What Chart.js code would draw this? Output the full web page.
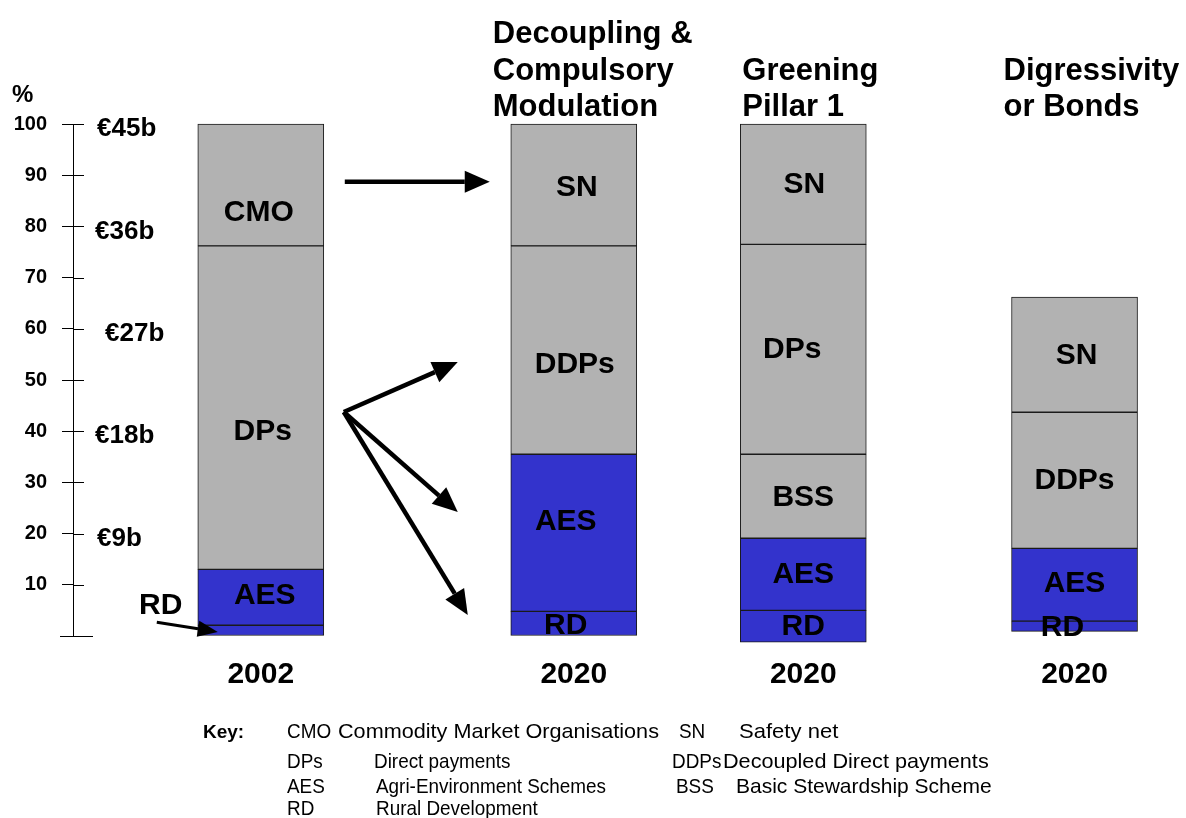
<!DOCTYPE html>
<html>
<head>
<meta charset="utf-8">
<script src="https://cdn.jsdelivr.net/npm/chart.js@4.4.1/dist/chart.umd.min.js"></script>
<style>
  html, body { margin: 0; padding: 0; background: #fff; }
</style>
</head>
<body>
<canvas id="capChart" width="1186" height="818"></canvas>
<script>
// ---- data ----
const years = ['2002', '2020', '2020', '2020'];
const columnTitles = [[], ['Decoupling &', 'Compulsory', 'Modulation'], ['Greening', 'Pillar 1'], ['Digressivity', 'or Bonds']];

// segment boundaries in %, bottom to top
const bounds2002 = [0, 2.1, 13, 76.2, 100];
const boundsDecoupling = [0, 4.8, 35.5, 76.2, 100];
const boundsGreening = [-1.2, 5, 19.1, 35.5, 76.5, 100];
const boundsDigressivity = [0.9, 2.9, 17.1, 43.7, 66.2];

const names2002 = ['', 'AES', 'DPs', 'CMO'];
const namesDecoupling = ['RD', 'AES', 'DDPs', 'SN'];
const namesGreening = ['RD', 'AES', 'BSS', 'DPs', 'SN'];
const namesDigressivity = ['RD', 'AES', 'DDPs', 'SN'];

const euroAt = [100, 80, 60, 40, 20];
const euroLabels = ['€45b', '€36b', '€27b', '€18b', '€9b'];

const keyCodes = ['CMO', 'DPs', 'AES', 'RD', 'SN', 'DDPs', 'BSS'];
const keyNames = ['Commodity Market Organisations', 'Direct payments', 'Agri-Environment Schemes',
  'Rural Development', 'Safety net', 'Decoupled Direct payments', 'Basic Stewardship Scheme'];

// ---- layout ----
const slotCount = 53;
const slotOf = [9, 24, 35, 48];   // uneven column spacing
const barWidth = 126;
const blue = '#3333cc';
const grey = '#b2b2b2';
const font = '"Liberation Sans", Arial, sans-serif';

// where each segment name sits (in % units) and a small horizontal nudge
const labelAt = [[null, 7.8, 39.8, 82.6], [2.1, 22.3, 52.9, 87.5], [1.8, 11.9, 27.1, 55.9, 88.1], [1.6, 10.2, 30.3, 54.7]];
const labelDx = [[0, 4, 2, -2], [-8, -8, 1, 3], [0, 0, 0, -11, 1], [-12, 0, 0, 2]];
const titleDx = [0, -18, 2, -8];
const euroX = [97, 95, 105, 95, 97];
const keyCodeX = [287, 287, 287, 287, 679, 672, 676];
const keyNameX = [338, 374, 376, 376, 739, 723, 736];
const keyRowY = [738, 768, 793, 815, 738, 768, 793];
const keyScale = [1.03, 0.9, 0.9, 0.9, 1.05, 1.03, 1.0];

const allBounds = [bounds2002, boundsDecoupling, boundsGreening, boundsDigressivity];
const allNames = [names2002, namesDecoupling, namesGreening, namesDigressivity];

const slotLabels = Array(slotCount).fill('');
slotOf.forEach((s, i) => { slotLabels[s] = years[i]; });

const layerCount = Math.max(...allBounds.map(b => b.length - 1));
const datasets = [];
for (let j = 0; j < layerCount; j++) {
    const data = Array(slotCount).fill(null);
    allBounds.forEach((b, i) => {
        if (j < b.length - 1) data[slotOf[i]] = [b[j], b[j + 1]];
    });
    datasets.push({
        data: data,
        backgroundColor: j < 2 ? blue : grey,
        borderColor: '#1a1a1a',
        borderWidth: 1,
        borderSkipped: false,
        barThickness: barWidth,
        clip: false
    });
}

function arrow(ctx, x1, y1, x2, y2, lw, headLen, headHalf) {
    const a = Math.atan2(y2 - y1, x2 - x1);
    const bx = x2 - headLen * Math.cos(a), by = y2 - headLen * Math.sin(a);
    ctx.lineWidth = lw;
    ctx.beginPath();
    ctx.moveTo(x1, y1);
    ctx.lineTo(bx, by);
    ctx.stroke();
    ctx.beginPath();
    ctx.moveTo(x2, y2);
    ctx.lineTo(bx + headHalf * Math.sin(a), by - headHalf * Math.cos(a));
    ctx.lineTo(bx - headHalf * Math.sin(a), by + headHalf * Math.cos(a));
    ctx.closePath();
    ctx.fill();
}

// text squeezed horizontally (the key uses a condensed face)
function squeezed(ctx, text, x, y, sx) {
    ctx.save();
    ctx.translate(x, y);
    ctx.scale(sx, 1);
    ctx.fillText(text, 0, 0);
    ctx.restore();
}

const overlay = {
    id: 'overlay',
    afterDraw(chart) {
        const { ctx, scales: { x, y } } = chart;
        const axisX = chart.chartArea.left;
        ctx.save();
        ctx.fillStyle = '#000';
        ctx.strokeStyle = '#000';

        // tick stubs right of the axis, long tick at 0
        ctx.lineWidth = 1;
        for (let v = 10; v <= 100; v += 10) {
            const py = Math.round(y.getPixelForValue(v)) + 0.5;
            ctx.beginPath(); ctx.moveTo(axisX, py); ctx.lineTo(axisX + 11, py); ctx.stroke();
        }
        const p0 = Math.round(y.getPixelForValue(0)) + 0.5;
        ctx.beginPath(); ctx.moveTo(axisX - 13, p0); ctx.lineTo(axisX + 20, p0); ctx.stroke();

        // % and euro labels
        ctx.textBaseline = 'middle';
        ctx.textAlign = 'left';
        ctx.font = 'bold 24px ' + font;
        ctx.fillText('%', 12, 95);
        ctx.font = 'bold 26px ' + font;
        euroAt.forEach((v, i) => ctx.fillText(euroLabels[i], euroX[i], y.getPixelForValue(v) + 5));

        // segment names
        ctx.textAlign = 'center';
        ctx.font = 'bold 30px ' + font;
        allNames.forEach((names, i) => {
            const cx = x.getPixelForValue(slotOf[i]);
            names.forEach((n, j) => {
                if (!n) return;
                ctx.fillText(n, cx + labelDx[i][j], y.getPixelForValue(labelAt[i][j]));
            });
        });

        // column titles
        ctx.textAlign = 'left';
        ctx.textBaseline = 'alphabetic';
        ctx.font = 'bold 31px ' + font;
        columnTitles.forEach((lines, i) => {
            const left = x.getPixelForValue(slotOf[i]) - barWidth / 2 + titleDx[i];
            const n = lines.length;
            lines.forEach((t, k) => ctx.fillText(t, left, 116 - (n - 1 - k) * 36.5));
        });

        // arrows
        const bar1L = x.getPixelForValue(slotOf[0]) - barWidth / 2;
        const bar1R = bar1L + barWidth;
        const bar2L = x.getPixelForValue(slotOf[1]) - barWidth / 2;
        arrow(ctx, bar1R + 21, y.getPixelForValue(88.7), bar2L - 21, y.getPixelForValue(88.7), 4.5, 25, 11);
        const ox = bar1R + 20, oy = y.getPixelForValue(43.75);
        arrow(ctx, ox, oy, bar2L - 53, y.getPixelForValue(53.5), 4.5, 25, 11);
        arrow(ctx, ox, oy, bar2L - 53, y.getPixelForValue(24.2), 4.5, 25, 11);
        arrow(ctx, ox, oy, bar2L - 43, y.getPixelForValue(4.1), 4.5, 25, 11);
        arrow(ctx, bar1L - 41, y.getPixelForValue(2.7), bar1L + 20, y.getPixelForValue(0.8), 3, 20, 8);
        ctx.textAlign = 'center';
        ctx.textBaseline = 'middle';
        ctx.font = 'bold 30px ' + font;
        ctx.fillText('RD', bar1L - 37, y.getPixelForValue(6));

        // key
        ctx.textAlign = 'left';
        ctx.textBaseline = 'alphabetic';
        ctx.font = 'bold 19px ' + font;
        ctx.fillText('Key:', 203, 738);
        ctx.font = '21px ' + font;
        keyCodes.forEach((c, i) => {
            squeezed(ctx, c, keyCodeX[i], keyRowY[i], 0.9);
            squeezed(ctx, keyNames[i], keyNameX[i], keyRowY[i], keyScale[i]);
        });
        ctx.restore();
    }
};

Chart.defaults.font.family = font;
Chart.defaults.color = '#000';

new Chart(document.getElementById('capChart').getContext('2d'), {
    type: 'bar',
    data: { labels: slotLabels, datasets: datasets },
    options: {
        responsive: false,
        animation: false,
        devicePixelRatio: 1,
        layout: { padding: { top: 124, right: 28, bottom: 132, left: 0 } },
        plugins: { legend: { display: false }, tooltip: { enabled: false } },
        scales: {
            x: {
                type: 'category',
                offset: false,
                stacked: true,
                grid: { display: false },
                border: { display: false },
                ticks: { autoSkip: false, maxRotation: 0, padding: 13, font: { size: 30, weight: 'bold' } },
                afterFit: s => { s.height = 50; }
            },
            y: {
                min: 0,
                max: 100,
                ticks: {
                    stepSize: 10,
                    padding: 15,
                    font: { size: 20, weight: 'bold' },
                    callback: v => (v === 0 ? '' : v)
                },
                grid: { drawOnChartArea: false, tickLength: 11, color: '#000', lineWidth: 1 },
                border: { color: '#000', width: 1 },
                afterFit: s => { s.width = 73; }
            }
        }
    },
    plugins: [overlay]
});
</script>
</body>
</html>
